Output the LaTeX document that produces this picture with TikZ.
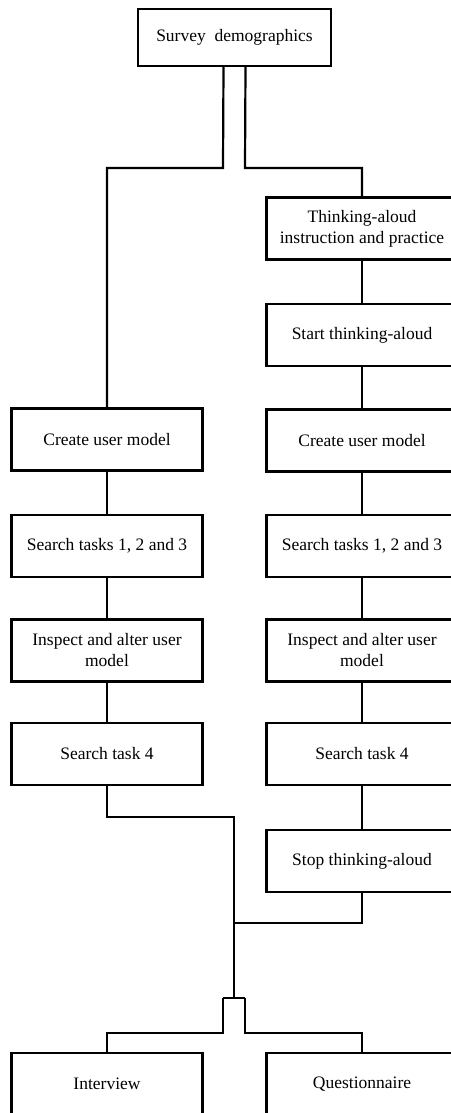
\documentclass[tikz,border=0pt]{standalone}
\usepackage{fontspec}
\setmainfont{Liberation Serif}
\usetikzlibrary{calc}

\tikzset{
    stage/.style={draw, line width=2.4pt, minimum width=191pt, minimum height=62pt,
        inner sep=2pt, align=center, font=\fontsize{17.5}{21}\selectfont},
    link/.style={line width=2.2pt},
    thinlink/.style={line width=1.5pt}
}

\begin{document}
\begin{tikzpicture}[x=1pt, y=-1pt]
    \useasboundingbox (0, 0) rectangle (450, 1113);
    \def\colL{107};
    \def\colR{362};

    \node[stage, minimum width=193pt, minimum height=57pt] (survey) at (234.5, 37.5) {Survey~~demographics};

    % thinking-aloud column
    \node[stage] (think) at (\colR, 228.5) {Thinking-aloud\\instruction and practice};
    \node[stage] (start) at (\colR, 335) {Start thinking-aloud};
    \node[stage] (createR) at (\colR, 440.5) {Create user model};
    \node[stage] (searchR) at (\colR, 546) {Search tasks 1, 2 and 3};
    \node[stage] (inspectR) at (\colR, 650.5) {Inspect and alter user\\model};
    \node[stage] (taskR) at (\colR, 754) {Search task 4};
    \node[stage] (stop) at (\colR, 861) {Stop thinking-aloud};

    % silent column
    \node[stage] (createL) at (\colL, 439.5) {Create user model};
    \node[stage] (searchL) at (\colL, 546) {Search tasks 1, 2 and 3};
    \node[stage] (inspectL) at (\colL, 650.5) {Inspect and alter user\\model};
    \node[stage] (taskL) at (\colL, 754) {Search task 4};

    \node[stage] (interview) at (\colL, 1084) {Interview};
    \node[stage] (quest) at (\colR, 1084) {Questionnaire};

    \coordinate (splitT) at (234, 168);
    \coordinate (joinA) at (234, 817);
    \coordinate (joinC) at (234, 923);
    \coordinate (joinB) at (234, 998);
    \coordinate (splitB) at (234, 1033);

    \draw[link] ([xshift=-11pt]survey.south) -- ([xshift=-11pt]splitT) -| (createL.north);
    \draw[link] ([xshift=11pt]survey.south) -- ([xshift=11pt]splitT) -| (think.north);

    \foreach \a/\b in {createL/searchL, searchL/inspectL, inspectL/taskL}
        \draw[link] (\a.south) -- (\b.north);
    \foreach \a/\b in {think/start, start/createR, createR/searchR, searchR/inspectR, inspectR/taskR, taskR/stop}
        \draw[thinlink] (\a.south) -- (\b.north);

    \draw[link] (taskL.south) |- (joinA) -- (joinB);
    \draw[link] (stop.south) |- (joinC);

    \draw[link] ([xshift=-11pt]joinB) -- ([xshift=11pt]joinB);
    \draw[link] ([xshift=-11pt]joinB) -- ([xshift=-11pt]splitB) -| (interview.north);
    \draw[link] ([xshift=11pt]joinB) -- ([xshift=11pt]splitB) -| (quest.north);
\end{tikzpicture}
\end{document}
